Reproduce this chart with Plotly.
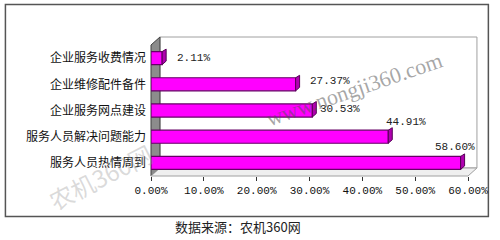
import plotly.graph_objects as go

categories = ["服务人员热情周到", "服务人员解决问题能力", "企业服务网点建设", "企业维修配件备件", "企业服务收费情况"]
values = [58.60, 44.91, 30.53, 27.37, 2.11]
labels = ["58.60%", "44.91%", "30.53%", "27.37%", "2.11%"]
tickvals = [0, 10, 20, 30, 40, 50, 60]
ticktext = ["0.00%", "10.00%", "20.00%", "30.00%", "40.00%", "50.00%", "60.00%"]
source = "数据来源：农机360网"

W, H = 500, 240
L, R, T, B = 151, 470, 45, 176  # plot area in pixels
D = 9  # depth offset

def px(x):
    return (x - L) / (R - L)

def py(y):
    return (B - y) / (B - T)

fig = go.Figure()
fig.add_trace(go.Bar(
    x=values, y=categories, orientation="h",
    marker=dict(color="#FF00FF", line=dict(color="#660066", width=1.2)),
    width=0.5, hoverinfo="skip",
))

shapes = []
# outer frame
shapes.append(dict(type="rect", xref="paper", yref="paper",
                   x0=px(4.5), x1=px(490.5), y0=py(216.5), y1=py(4.5),
                   line=dict(color="#555555", width=1.5), fillcolor="rgba(0,0,0,0)", layer="below"))
# back wall
shapes.append(dict(type="rect", xref="paper", yref="paper",
                   x0=px(L + D), x1=px(R + D), y0=py(B - 8), y1=py(T - 8),
                   line=dict(color="#A0A0A0", width=1), fillcolor="white", layer="below"))
# left wall
shapes.append(dict(type="path", xref="paper", yref="paper",
                   path=f"M {px(L)} {py(B)} L {px(L)} {py(T)} L {px(L+D)} {py(T-8)} L {px(L+D)} {py(B-8)} Z",
                   line=dict(color="#404040", width=1), fillcolor="#8C8C8C", layer="below"))
# floor
shapes.append(dict(type="path", xref="paper", yref="paper",
                   path=f"M {px(L)} {py(B)} L {px(R)} {py(B)} L {px(R+D)} {py(B-8)} L {px(L+D)} {py(B-8)} Z",
                   line=dict(color="#A0A0A0", width=1), fillcolor="#EFEFEF", layer="below"))
# bar end caps (3D)
for v, c in zip(values, categories):
    shapes.append(dict(type="path", xref="x", yref="y", xsizemode="pixel", ysizemode="pixel",
                       xanchor=v, yanchor=c,
                       path="M 0 -6.5 L 4 -3 L 4 9 L 0 6.5 Z",
                       line=dict(color="#550055", width=1), fillcolor="#B000B0"))

annotations = []
offsets = [(-28, 16), (-4, 15), (6, 2), (12, 3), (13, 0)]
for v, c, t, (dx, dy) in zip(values, categories, labels, offsets):
    annotations.append(dict(x=v, y=c, xref="x", yref="y", text=t, showarrow=False,
                            xanchor="left", yanchor="middle", xshift=dx, yshift=dy,
                            font=dict(family="Liberation Mono", size=11, color="#222222")))
annotations.append(dict(x=px(239), y=py(226), xref="paper", yref="paper", text=source,
                        showarrow=False, xanchor="center", yanchor="middle",
                        font=dict(family="Noto Sans CJK SC", size=13, color="#222222")))
# watermarks
annotations.append(dict(x=px(355), y=py(89), xref="paper", yref="paper", text="www.nongji360.com",
                        showarrow=False, textangle=-19, xanchor="center", yanchor="middle",
                        font=dict(family="Liberation Serif", size=22, color="rgba(80,80,80,0.5)")))
annotations.append(dict(x=px(100), y=py(176), xref="paper", yref="paper", text="农机360网",
                        showarrow=False, textangle=-27, xanchor="center", yanchor="middle",
                        font=dict(family="Noto Sans CJK SC", size=24, color="rgba(150,150,150,0.35)")))

fig.update_layout(
    width=W, height=H,
    margin=dict(l=L, r=W - R, t=T, b=H - B),
    paper_bgcolor="white", plot_bgcolor="rgba(0,0,0,0)",
    showlegend=False,
    bargap=0.5,
    shapes=shapes, annotations=annotations,
    xaxis=dict(range=[0, 60], tickvals=tickvals, ticktext=ticktext, showgrid=False,
               zeroline=False, showline=False, ticks="outside", ticklen=4, tickcolor="#333333",
               tickfont=dict(family="Liberation Mono", size=11, color="#111111")),
    yaxis=dict(showgrid=False, zeroline=False, showline=False, ticks="", ticklabelstandoff=4,
               tickfont=dict(family="Noto Sans CJK SC", size=12, color="#111111")),
)

fig.write_html("out.html")
